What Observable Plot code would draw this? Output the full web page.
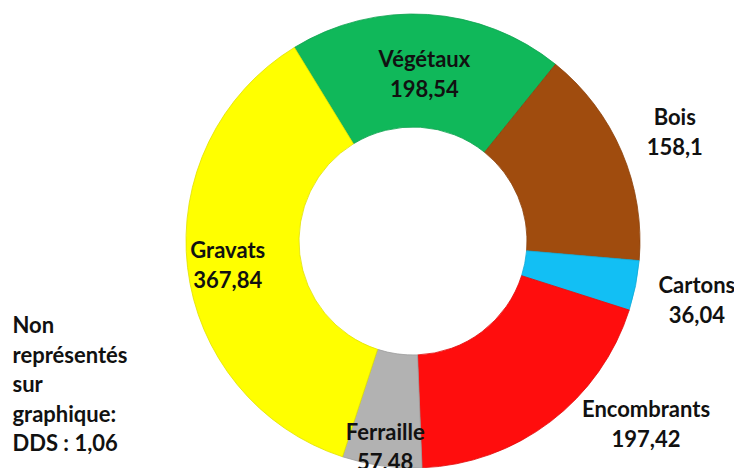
<!DOCTYPE html>
<html>
<head>
<meta charset="utf-8">
<script src="https://cdn.jsdelivr.net/npm/d3@7"></script>
<script src="https://cdn.jsdelivr.net/npm/@observablehq/plot@0.6"></script>
<style>
  html, body { margin: 0; padding: 0; background: #fff; }
  #chart { width: 734px; height: 468px; overflow: hidden; }
</style>
</head>
<body>
<div id="chart"></div>
<script>
// ---- data ----
const categories = ["Végétaux", "Bois", "Cartons", "Encombrants", "Ferraille", "Gravats"];
const values = [198.54, 158.1, 36.04, 197.42, 57.48, 367.84];
const valueLabels = ["198,54", "158,1", "36,04", "197,42", "57,48", "367,84"];
const colors = ["#10b85a", "#a04c0e", "#12bff4", "#ff0d0d", "#b2b2b2", "#ffff00"];
const noteLines = ["Non", "représentés", "sur", "graphique:", "DDS : 1,06"];

// ---- layout (not data) ----
const W = 734, H = 468;
const cx = 413, cy = 241;
const outerR = 227, innerR = 114;
const startAngle = -31.5 * Math.PI / 180;
const labelR = [169, 284, 289, 227, 206, 187];
const labelDx = [0, 0, 0, 95, 0, 0];
const fontFamily = "Lato, 'Open Sans', sans-serif";

const total = d3.sum(values);
const cum = d3.cumsum(values);
const data = categories.map((c, i) => ({
  category: c,
  value: values[i],
  mid: cum[i] - values[i] / 2,
  label: c + "\n" + valueLabels[i],
  idx: i
}));

const arc = d3.arc().innerRadius(innerR).outerRadius(outerR);

const chart = Plot.plot({
  width: W,
  height: H,
  margin: 0,
  style: { fontFamily, background: "#fff" },
  x: { domain: [0, total], range: [startAngle, startAngle + 2 * Math.PI], axis: null },
  color: { domain: categories, range: colors },
  marks: [
    Plot.barX(data, Plot.stackX({
      x: "value",
      fill: "category",
      render(index, scales, v) {
        const g = d3.create("svg:g").attr("transform", `translate(${cx},${cy})`);
        for (const i of index) {
          g.append("path")
            .attr("d", arc({ startAngle: v.x1[i], endAngle: v.x2[i] }))
            .attr("fill", v.fill[i])
            .attr("stroke", d3.color(v.fill[i]).darker(0.35))
            .attr("stroke-width", 0.8);
        }
        return g.node();
      }
    })),
    Plot.text(data, {
      x: "mid",
      text: "label",
      fontSize: 22,
      fontWeight: "bold",
      fill: "#111",
      lineHeight: 1.36,
      render(index, scales, v, dims, ctx, next) {
        const X = [], Y = [];
        for (const i of index) {
          const a = v.x[i];
          const k = data[i].idx;
          X[i] = cx + labelR[k] * Math.sin(a) + labelDx[k];
          Y[i] = cy - labelR[k] * Math.cos(a);
        }
        return next(index, scales, { ...v, x: X, y: Y }, dims, ctx);
      }
    }),
    Plot.text([noteLines.join("\n")], {
      frameAnchor: "top-left",
      textAnchor: "start",
      lineAnchor: "top",
      dx: 12,
      dy: 312,
      fontSize: 22,
      fontWeight: "bold",
      fill: "#111",
      lineHeight: 1.34
    })
  ]
});

document.getElementById("chart").appendChild(chart);
</script>
</body>
</html>
